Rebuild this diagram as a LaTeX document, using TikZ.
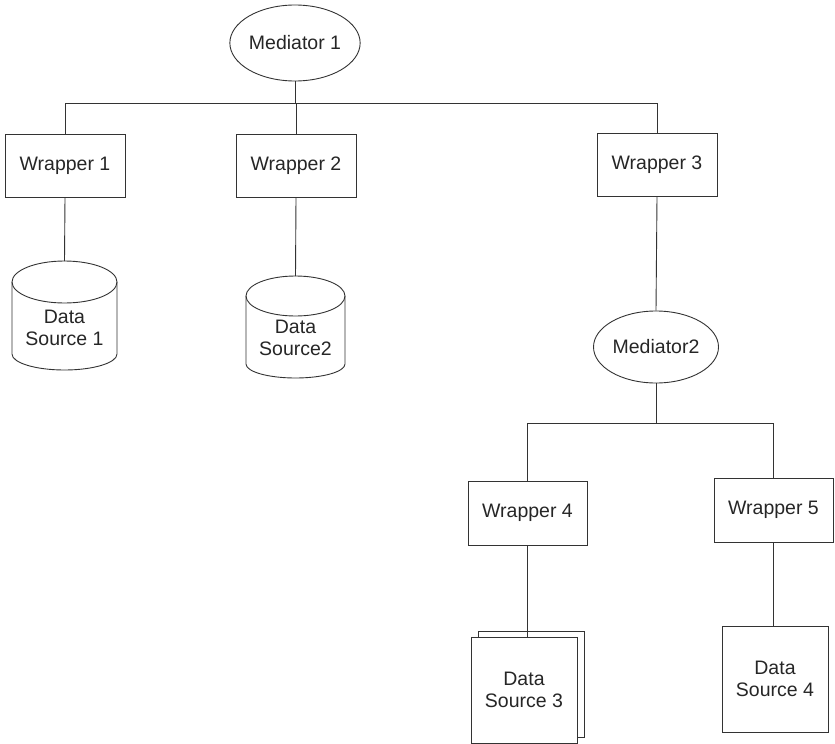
\documentclass[tikz,border=0pt]{standalone}
\usepackage{fontspec}
\setmainfont{Liberation Sans}
\usetikzlibrary{shapes.geometric}
\begin{document}
\begin{tikzpicture}[x=1pt,y=-1pt,
  ln/.style={draw=black!80,line width=0.9pt},
  lbl/.style={text=black!85,font=\fontsize{19.5}{22.5}\selectfont,align=center,inner sep=0pt},
  wrapbox/.style={ln,lbl,rectangle,minimum width=120pt,minimum height=63pt},
  medell/.style={ln,lbl,ellipse,inner sep=0pt}]
\useasboundingbox (0,0) rectangle (835,744);
% mediators
\node[medell,minimum width=129pt,minimum height=76pt] (m1) at (295,43) {Mediator 1};
\node[medell,minimum width=125pt,minimum height=72pt] (m2) at (656,347) {Mediator2};
% wrappers
\node[wrapbox] (w1) at (65,165.5) {Wrapper 1};
\node[wrapbox] (w2) at (296,165.5) {Wrapper 2};
\node[wrapbox] (w3) at (657,165) {Wrapper 3};
\node[wrapbox,minimum width=119pt,minimum height=64pt] (w4) at (527.5,513) {Wrapper 4};
\node[wrapbox,minimum width=119pt,minimum height=64pt] (w5) at (773.5,510) {Wrapper 5};
% data source 1 (cylinder)
\path[ln,fill=white] (12,282) -- (12,354) arc[start angle=180,end angle=0,x radius=52.5,y radius=16] -- (117,282);
\draw[ln] (64.5,282) ellipse[x radius=52.5,y radius=21];
\coordinate (d1) at (64.5,261);
\node[lbl] (t1) at (64.5,328) {Data\\Source 1};
% data source 2 (cylinder)
\path[ln,fill=white] (246,296) -- (246,364) arc[start angle=180,end angle=0,x radius=49.5,y radius=14] -- (345,296);
\draw[ln] (295.5,296) ellipse[x radius=49.5,y radius=20];
\coordinate (d2) at (295.5,276);
\node[lbl] (t2) at (295.5,338) {Data\\Source2};
% data source 3 (stacked pages)
\draw[ln,fill=white] (478,631) rectangle (584,737);
\node[ln,lbl,rectangle,fill=white,minimum width=106pt,minimum height=106pt] (d3) at (524,690) {Data\\Source 3};
% data source 4
\node[ln,lbl,rectangle,minimum width=106pt,minimum height=106pt] (d4) at (775,679) {Data\\Source 4};
% connectors
\coordinate (b1) at (295,103);
\coordinate (b2) at (656,423);
\draw[ln] (m1.south) -- (b1);
\draw[ln] (w1.north) -- (w1.north |- b1) -- (w3.north |- b1) -- (w3.north);
\draw[ln] (w2.north) -- (w2.north |- b1);
\draw[ln] (w1.south) -- (d1);
\draw[ln] (w2.south) -- (d2);
\draw[ln] (w3.south) -- (m2.north);
\draw[ln] (m2.south) -- (b2);
\draw[ln] (w4.north) -- (w4.north |- b2) -- (w5.north |- b2) -- (w5.north);
\draw[ln] (w4.south) -- (d3.north -| w4.south);
\draw[ln] (w5.south) -- (d4.north -| w5.south);
\end{tikzpicture}
\end{document}
